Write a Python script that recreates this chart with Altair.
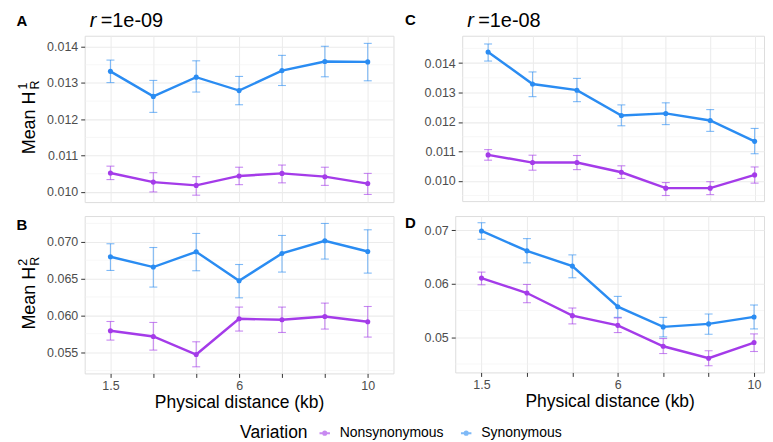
import altair as alt
import pandas as pd

dist = ["1.5", "3", "4.5", "6", "7.5", "9", "10"]
shown_labels = ["1.5", "6", "10"]
variations = ["Nonsynonymous", "Synonymous"]
colors = ["#A43BE9", "#2A8CF2"]

# Panel A: r = 1e-09, mean H_R^1
a_syn = [0.01332, 0.01263, 0.01316, 0.01279, 0.01334, 0.01359, 0.01358]
a_syn_lo = [0.01301, 0.01219, 0.01275, 0.01240, 0.01293, 0.01317, 0.01306]
a_syn_hi = [0.01363, 0.01307, 0.01361, 0.01318, 0.01376, 0.01401, 0.01409]
a_non = [0.01052, 0.01027, 0.01018, 0.01044, 0.01051, 0.01042, 0.01023]
a_non_lo = [0.01034, 0.01000, 0.00991, 0.01020, 0.01025, 0.01018, 0.00993]
a_non_hi = [0.01071, 0.01053, 0.01042, 0.01068, 0.01074, 0.01068, 0.01051]

# Panel C: r = 1e-08, mean H_R^1
c_syn = [0.01438, 0.01329, 0.01308, 0.01222, 0.01229, 0.01205, 0.01134]
c_syn_lo = [0.01407, 0.01286, 0.01269, 0.01187, 0.01191, 0.01168, 0.01092]
c_syn_hi = [0.01465, 0.01370, 0.01348, 0.01258, 0.01265, 0.01242, 0.01178]
c_non = [0.01088, 0.01062, 0.01062, 0.01029, 0.00975, 0.00975, 0.01020]
c_non_lo = [0.01070, 0.01036, 0.01038, 0.01008, 0.00950, 0.00953, 0.00992]
c_non_hi = [0.01106, 0.01087, 0.01086, 0.01051, 0.00994, 0.00997, 0.01047]

# Panel B: r = 1e-09, mean H_R^2
b_syn = [0.06796, 0.06656, 0.06864, 0.06470, 0.06841, 0.07013, 0.06868]
b_syn_lo = [0.06610, 0.06384, 0.06606, 0.06238, 0.06588, 0.06765, 0.06574]
b_syn_hi = [0.06973, 0.06922, 0.07113, 0.06691, 0.07086, 0.07249, 0.07163]
b_non = [0.05790, 0.05712, 0.05467, 0.05953, 0.05939, 0.05984, 0.05912]
b_non_lo = [0.05663, 0.05527, 0.05300, 0.05786, 0.05767, 0.05813, 0.05704]
b_non_hi = [0.05916, 0.05903, 0.05640, 0.06112, 0.06112, 0.06166, 0.06120]

# Panel D: r = 1e-08, mean H_R^2
d_syn = [0.06987, 0.06615, 0.06330, 0.05572, 0.05194, 0.05250, 0.05380]
d_syn_lo = [0.06832, 0.06391, 0.06112, 0.05372, 0.05007, 0.05056, 0.05156]
d_syn_hi = [0.07141, 0.06844, 0.06540, 0.05764, 0.05372, 0.05436, 0.05603]
d_non = [0.06106, 0.05827, 0.05404, 0.05223, 0.04832, 0.04609, 0.04901]
d_non_lo = [0.05981, 0.05646, 0.05250, 0.05088, 0.04696, 0.04467, 0.04734]
d_non_hi = [0.06218, 0.05987, 0.05547, 0.05361, 0.04976, 0.04747, 0.05063]

# axis ticks (major) and minor gridlines
a_major = [0.010, 0.011, 0.012, 0.013, 0.014]
a_minor = [0.0105, 0.0115, 0.0125, 0.0135]
c_major = [0.010, 0.011, 0.012, 0.013, 0.014]
c_minor = [0.0095, 0.0105, 0.0115, 0.0125, 0.0135, 0.0145]
b_major = [0.055, 0.060, 0.065, 0.070]
b_minor = [0.0525, 0.0575, 0.0625, 0.0675, 0.0725]
d_major = [0.05, 0.06, 0.07]
d_minor = [0.045, 0.055, 0.065]

FONT = "Liberation Sans"
SYMBOL = "M-1,0H1M-0.3,0A0.3,0.3 0 1,1 0.3,0A0.3,0.3 0 1,1 -0.3,0Z"

legend = alt.Legend(
    title="Variation", orient="none", legendX=156, legendY=392,
    direction="horizontal", titleOrient="left", titleFontSize=17.5,
    titleFontWeight="normal", titleColor="black", titleFont=FONT,
    labelFontSize=14, labelColor="black", labelFont=FONT,
    symbolType=SYMBOL, symbolSize=110, symbolStrokeWidth=2,
    columnPadding=12, labelOffset=8, titlePadding=10,
)


def txt(s, x, y, size, **kw):
    return alt.Chart(pd.DataFrame({"t": [s]})).mark_text(
        fontSize=size, font=FONT, color="black", **kw
    ).encode(x=alt.value(x), y=alt.value(y), text="t:N")


def panel(syn, syn_lo, syn_hi, non, non_lo, non_hi, domain, major, minor, fmt,
          width, height, bottom, letter, letter_xy, rval, sup, ytitle_y, sub_y,
          pad=0.6, align=0.5, anchor=False):
    df = pd.DataFrame({
        "dist": dist * 2,
        "variation": [variations[0]] * 7 + [variations[1]] * 7,
        "mean": non + syn,
        "lo": non_lo + syn_lo,
        "hi": non_hi + syn_hi,
    })
    xscale = alt.Scale(type="point", padding=pad, align=align)
    if bottom:
        label_expr = "indexof(" + str(shown_labels) + ", datum.label) >= 0 ? datum.label : ''"
        xaxis = alt.Axis(title="Physical distance (kb)", labelExpr=label_expr,
                         ticks=True, tickSize=4, tickColor="#333333",
                         labelPadding=2, labelFontSize=12.5, labelColor="#4D4D4D",
                         labelAngle=0, titleFontSize=17.5, titleFontWeight="normal",
                         titleColor="black", titlePadding=2, domain=False,
                         grid=True, gridColor="#EBEBEB", labelFont=FONT, titleFont=FONT)
    else:
        xaxis = alt.Axis(title=None, labels=False, ticks=False, domain=False,
                         grid=True, gridColor="#EBEBEB")
    x = alt.X("dist:O", sort=dist, scale=xscale, axis=xaxis)
    yscale = alt.Scale(domain=domain, nice=False, zero=False)
    yaxis = alt.Axis(values=major, format=fmt, title=None, domain=False,
                     tickSize=4, tickColor="#333333", labelPadding=3,
                     labelFontSize=12.5, labelColor="#4D4D4D", labelFont=FONT,
                     grid=True, gridColor="#EBEBEB", gridWidth=1.1)
    color = alt.Color("variation:N", scale=alt.Scale(domain=variations, range=colors),
                      legend=legend)

    minor_rules = alt.Chart(pd.DataFrame({"v": minor})).mark_rule(
        color="#F2F2F2", strokeWidth=0.6
    ).encode(y=alt.Y("v:Q", scale=yscale, axis=yaxis))

    base = alt.Chart(df)
    err = base.mark_rule(strokeWidth=1.1, opacity=0.6).encode(
        x=x, y=alt.Y("lo:Q", scale=yscale, axis=yaxis), y2="hi:Q", color=color)
    cap_lo = base.mark_tick(size=8, thickness=1.1, opacity=0.6).encode(
        x=x, y=alt.Y("lo:Q", scale=yscale, axis=yaxis), color=color)
    cap_hi = base.mark_tick(size=8, thickness=1.1, opacity=0.6).encode(
        x=x, y=alt.Y("hi:Q", scale=yscale, axis=yaxis), color=color)
    line = base.mark_line(strokeWidth=2.4).encode(
        x=x, y=alt.Y("mean:Q", scale=yscale, axis=yaxis), color=color)
    pts = base.mark_circle(size=26, opacity=1).encode(
        x=x, y=alt.Y("mean:Q", scale=yscale, axis=yaxis), color=color)

    layers = [minor_rules, err, cap_lo, cap_hi, line, pts]
    lx, ly = letter_xy
    layers.append(txt(letter, lx, ly, 15, fontWeight="bold", align="center", baseline="middle"))
    if rval is not None:
        layers.append(txt("r", 5, -9, 20, fontStyle="italic", align="left", baseline="alphabetic"))
        layers.append(txt("=" + rval, 16, -9, 20, align="left", baseline="alphabetic"))
    if sup is not None:
        layers.append(txt("Mean H", -50, ytitle_y, 18, angle=270, align="left", baseline="alphabetic"))
        layers.append(txt(sup, -58, sub_y, 12.5, angle=270, align="left", baseline="alphabetic"))
        layers.append(txt("R", -46, sub_y, 12.5, angle=270, align="left", baseline="alphabetic"))
    if anchor:
        layers.append(alt.Chart(pd.DataFrame({"t": [0]})).mark_rule(strokeOpacity=0).encode(
            x=alt.value(-76), x2=alt.value(-75), y=alt.value(-26), y2=alt.value(-25)))
    return alt.layer(*layers).properties(width=width, height=height)


pA = panel(a_syn, a_syn_lo, a_syn_hi, a_non, a_non_lo, a_non_hi, [0.00972, 0.0143],
           a_major, a_minor, ".3f", 310, 167, False, "A", (-63, -15), "1e-09", "1", 119, 54,
           anchor=True)
pC = panel(c_syn, c_syn_lo, c_syn_hi, c_non, c_non_lo, c_non_hi, [0.00931, 0.01493],
           c_major, c_minor, ".3f", 303, 166, False, "C", (-52, -16), "1e-08", None, 0, 0,
           pad=0.397, align=0.734)
pB = panel(b_syn, b_syn_lo, b_syn_hi, b_non, b_non_lo, b_non_hi, [0.0521, 0.0735],
           b_major, b_minor, ".3f", 310, 158, True, "B", (-63, 9), None, "2", 114, 50)
pD = panel(d_syn, d_syn_lo, d_syn_hi, d_non, d_non_lo, d_non_hi, [0.04343, 0.07266],
           d_major, d_minor, ".2f", 310, 157, True, "D", (-45, 7), None, None, 0, 0,
           pad=0.399, align=0.725)

top = alt.hconcat(pA, pC, spacing=69, bounds="flush")
bottom = alt.hconcat(pB, pD, spacing=62, bounds="flush")
chart = alt.vconcat(top, bottom, spacing=12).properties(
    padding=0
).configure_view(stroke="#A8A8A8", strokeWidth=1).configure(font=FONT)

chart.save("out.html", embed_options={"renderer": "svg", "actions": False})
